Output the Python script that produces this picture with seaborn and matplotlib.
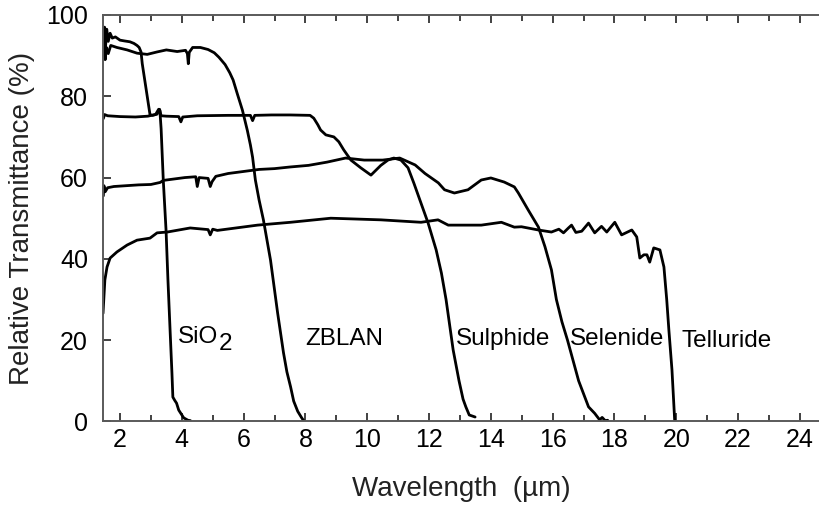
import numpy as np
import pandas as pd
import matplotlib
matplotlib.use("Agg")
import matplotlib.pyplot as plt
import seaborn as sns

# Transmission curves (wavelength in um, transmittance in %)
sio2_x = [1.46, 1.48, 1.50, 1.53, 1.57, 1.62, 1.68, 1.75, 1.85, 2.0, 2.15, 2.32, 2.45, 2.55,
          2.62, 2.68, 2.72, 2.75, 2.85, 2.97, 3.05, 3.15, 3.25, 3.29, 3.33, 3.40, 3.49, 3.55,
          3.62, 3.68, 3.71, 3.77, 3.83, 3.90, 4.06, 4.20, 4.28]
sio2_y = [96, 91, 97, 92, 96.5, 93.5, 95.5, 94.3, 94.6, 93.8, 93.6, 93.4, 93.0, 92.5,
          92, 90.9, 88, 86.5, 81.5, 75.5, 75.3, 75.5, 76.8, 76.5, 72, 59.4, 47, 35,
          22.5, 12, 6, 5.2, 4.5, 2.8, 0.9, 0.3, 0.2]

zblan_x = [1.46, 1.48, 1.52, 1.56, 1.62, 1.70, 1.90, 2.23, 2.55, 2.88, 3.20, 3.50, 3.85,
           4.12, 4.18, 4.21, 4.24, 4.35, 4.60, 4.85, 5.05, 5.20, 5.40, 5.55, 5.66, 5.80,
           5.96, 6.12, 6.22, 6.29, 6.38, 6.50, 6.64, 6.87, 7.10, 7.29, 7.40, 7.52, 7.62,
           7.75, 7.87, 7.96]
zblan_y = [90, 93.5, 89, 92, 90.5, 92.5, 92, 91.4, 90.6, 90.3, 90.9, 91.4, 91.0,
           91.3, 90.5, 88, 90.8, 92, 92, 91.5, 90.7, 89.6, 87.8, 85.8, 84, 80.5,
           76.6, 71.6, 68, 65, 59.4, 54.5, 49.6, 39.7, 26.7, 16.9, 12.2, 8.5, 5,
           2.5, 1, 0]

sulphide_x = [1.46, 1.50, 1.60, 2.0, 2.5, 2.9, 3.2, 3.28, 3.33, 3.5, 3.9, 3.97, 4.03, 4.5,
              5.5, 6.22, 6.29, 6.36, 6.9, 7.5, 8.15, 8.27, 8.40, 8.49, 8.66, 8.92, 9.08,
              9.24, 9.47, 9.79, 10.12, 10.44, 10.67, 10.86, 11.09, 11.32, 11.51, 11.74,
              11.97, 12.23, 12.40, 12.55, 12.78, 12.97, 13.10, 13.19, 13.30, 13.49]
sulphide_y = [74.5, 75.5, 75.2, 75, 74.9, 75.1, 75.6, 76.8, 75.2, 75.1, 75, 73.7, 74.9, 75.2,
              75.3, 75.3, 74, 75.3, 75.4, 75.4, 75.3, 74.6, 73, 71.7, 70.5, 70, 68.8,
              66.8, 64.3, 62.4, 60.6, 63, 64.3, 64.8, 64.3, 62.4, 58.6, 53.7,
              48.8, 42.2, 36.5, 30, 17.6, 10, 5.5, 3.6, 1.6, 1.1]

selenide_x = [1.46, 1.48, 1.52, 1.60, 1.80, 2.2, 2.6, 3.0, 3.3, 3.4, 3.8, 4.1, 4.45, 4.5,
              4.56, 4.85, 4.92, 4.98, 5.1, 5.5, 6.0, 6.5, 7.0, 7.5, 8.1, 8.7, 9.3, 9.9,
              10.5, 11.05, 11.55, 11.87, 12.3, 12.5, 12.82, 13.26, 13.69, 14.0, 14.43,
              14.76, 14.89, 15.21, 15.54, 15.75, 15.96, 16.12, 16.30, 16.48, 16.84, 17.16,
              17.36, 17.52, 17.60, 17.70, 17.78]
selenide_y = [55.5, 58, 56.5, 57.5, 57.8, 58, 58.2, 58.3, 58.8, 59.3, 59.7, 60, 60.2, 57.8,
              60, 59.8, 57.8, 59, 60.3, 61, 61.5, 62, 62.2, 62.6, 63, 63.8, 64.8, 64.3,
              64.3, 64.8, 63.1, 61, 58.7, 57, 56.2, 57, 59.4, 59.9, 58.9,
              57.7, 56.2, 52, 47.8, 43, 37.3, 30, 24.5, 20, 10, 3.6,
              2, 0.4, 1.0, 0.2, 0.3]

telluride_x = [1.45, 1.51, 1.58, 1.68, 1.90, 2.23, 2.55, 2.97, 3.20, 3.53, 4.27, 4.85, 4.92,
               5.0, 5.15, 6.45, 7.52, 8.82, 10.44, 11.74, 12.29, 12.62, 13.69, 14.34, 14.76,
               14.99, 15.54, 15.96, 16.2, 16.35, 16.51, 16.61, 16.75, 16.94, 17.16, 17.36,
               17.58, 17.75, 18.01, 18.23, 18.56, 18.72, 18.82, 18.95, 19.05, 19.14, 19.27,
               19.47, 19.60, 19.69, 19.76, 19.86, 19.95]
telluride_y = [26.6, 34.8, 38, 40.2, 41.7, 43.4, 44.6, 45.1, 46.4, 46.6, 47.6, 47.2, 45.9,
               47.3, 47, 48.3, 49, 50, 49.6, 49, 49.6, 48.3, 48.3, 49, 47.8,
               47.9, 47.1, 46.6, 47.3, 46.4, 47.6, 48.3, 46.5, 46.8, 48.8, 46.4,
               48, 46.6, 49, 45.9, 47.1, 45.4, 40.2, 41, 41, 39.2, 42.7,
               42.2, 38, 30, 22.5, 12.7, 0]

# label text, x (left edge) and baseline y
glass_labels = ["ZBLAN", "Sulphide", "Selenide", "Telluride"]
label_x = [8.01, 12.88, 16.55, 20.18]
label_y = [18.8, 18.8, 18.8, 18.3]

curves = {
    "SiO2": (sio2_x, sio2_y),
    "ZBLAN": (zblan_x, zblan_y),
    "Sulphide": (sulphide_x, sulphide_y),
    "Selenide": (selenide_x, selenide_y),
    "Telluride": (telluride_x, telluride_y),
}

sns.set_style("white")
plt.rcParams["font.family"] = ["Liberation Sans", "DejaVu Sans"]

fig = plt.figure(figsize=(8.2, 5.12), dpi=100)
ax = fig.add_axes([0.126, 0.1768, 0.874, 0.794])

for name, (xs, ys) in curves.items():
    df = pd.DataFrame({"wl": xs, "T": ys})
    sns.lineplot(data=df, x="wl", y="T", ax=ax, color="black", lw=2.0,
                 estimator=None, sort=False)

ax.set_xlim(1.46, 24.65)
ax.set_ylim(0, 100)
ax.set_xticks(range(2, 25, 2))
ax.set_xticks(range(3, 25, 2), minor=True)
ax.set_yticks(range(0, 101, 20))

for side in ["left", "bottom", "top"]:
    ax.spines[side].set_color("#5a5a5a")
    ax.spines[side].set_linewidth(1.4)
ax.spines["right"].set_visible(False)

ax.tick_params(axis="x", which="both", direction="in", top=True, bottom=True,
               colors="#333333", labelcolor="black", labelsize=18, pad=5)
ax.tick_params(axis="x", which="major", length=6, width=1.3)
ax.tick_params(axis="x", which="minor", length=4, width=1.3)
ax.tick_params(axis="y", which="major", direction="in", left=True, right=False,
               length=6, width=1.3, colors="#333333", labelcolor="black",
               labelsize=18, pad=11)

ax.set_xlabel("Wavelength  (\u00b5m)", fontsize=20, color="#222222", labelpad=17)
ax.set_ylabel("Relative Transmittance (%)", fontsize=20, color="#222222", labelpad=8)

# SiO2 label with a full-size, lowered subscript
t = ax.text(3.88, 19.3, "SiO", fontsize=17.5, color="black", va="baseline")
ax.annotate("2", xy=(1, 0), xycoords=t, xytext=(0.5, -5), textcoords="offset points",
            fontsize=17.5, color="black", va="bottom", ha="left")

for lab, lx, ly in zip(glass_labels, label_x, label_y):
    ax.text(lx, ly, lab, fontsize=17.5, color="black", va="baseline")

fig.savefig("out.png", dpi=100)
